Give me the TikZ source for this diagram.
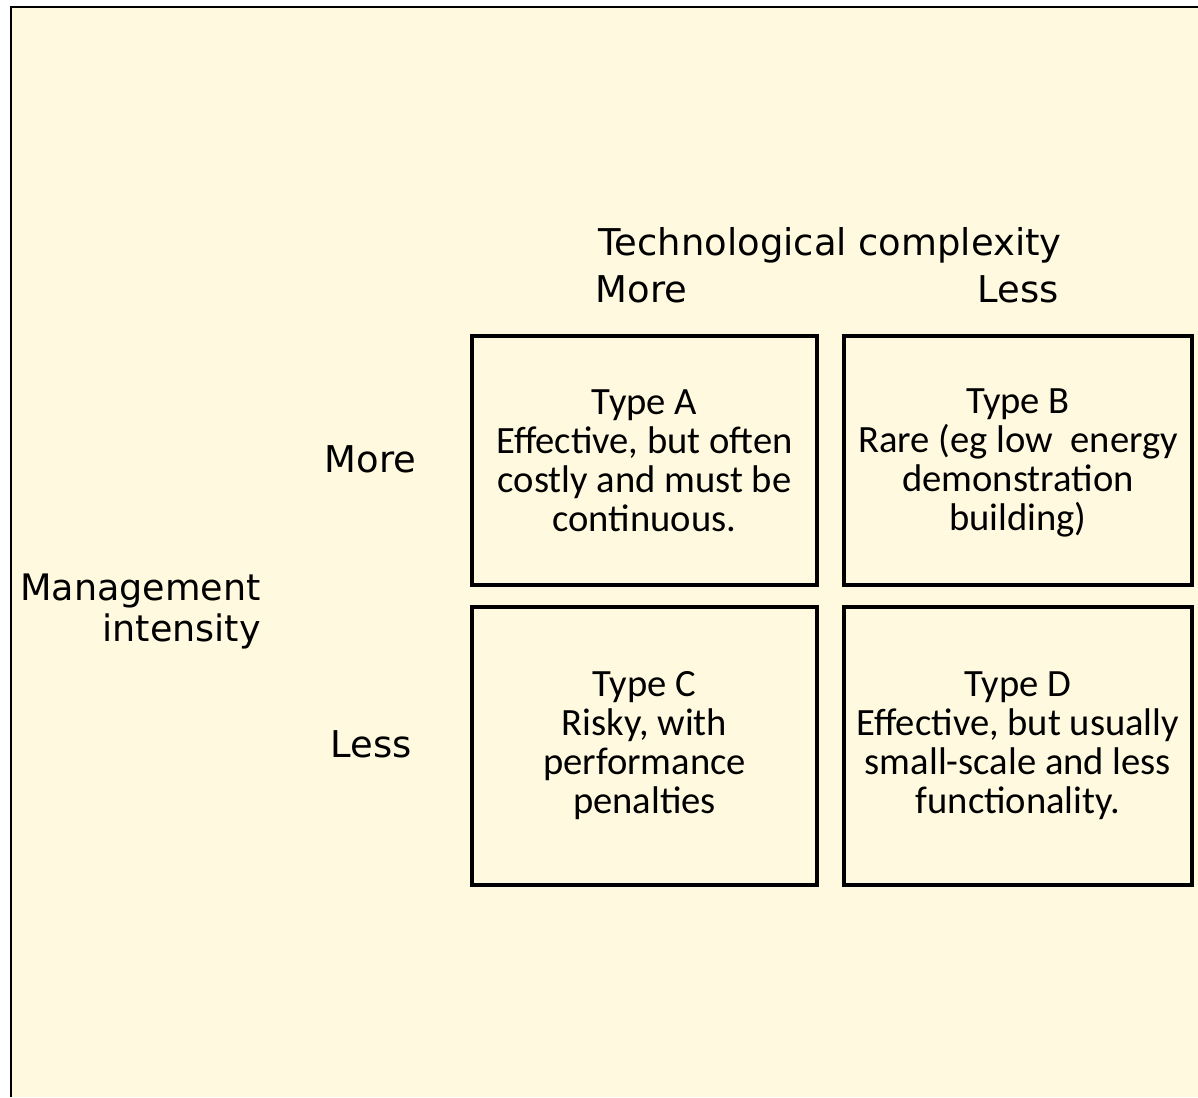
\documentclass[tikz,border=0pt]{standalone}
\usepackage{fontspec}
\setmainfont{Carlito}
\newfontfamily\labelfont{DejaVu Sans}
\definecolor{bgyellow}{HTML}{FFFADF}
\begin{document}
\begin{tikzpicture}[x=1pt,y=-1pt,
  quad/.style={draw=black, line width=4pt, rectangle, inner sep=0pt,
    align=center, font=\fontsize{38.6}{39}\selectfont},
  axislbl/.style={font=\labelfont\fontsize{36.9}{41}\selectfont, inner sep=0pt}]
\useasboundingbox (0,0) rectangle (1198,1097);
\fill[bgyellow] (11,7) rectangle (1198,1097);
\draw[line width=2.5pt] (11,1097) -- (11,7) -- (1198,7);

\node[quad, minimum width=345pt, minimum height=249pt] (A) at (644.5,460.5)
  {Type A\\Effective, but often\\costly and must be\\continuous.};
\node[quad, minimum width=348pt, minimum height=249pt] (B) at (1018,460.5)
  {\rule{0pt}{29pt}Type B\\Rare (eg low\ \ energy\\demonstration\\building)};
\node[quad, minimum width=345pt, minimum height=278pt] (C) at (644.5,746)
  {Type C\\Risky, with\\performance\\penalties};
\node[quad, minimum width=348pt, minimum height=278pt] (D) at (1018,746)
  {Type D\\Effective, but usually\\small-scale and less\\functionality.};

\node[axislbl, anchor=base] (tc) at (830,255) {Technological complexity};
\node[axislbl, anchor=base] (tmore) at (641.5,302) {More};
\node[axislbl, anchor=base] (tless) at (1018,302) {Less};
\node[axislbl, anchor=base] (lmore) at (370.5,472) {More};
\node[axislbl, anchor=base] (lless) at (371.5,757) {Less};
\node[axislbl, anchor=east, align=right, font=\labelfont\fontsize{36.5}{41}\selectfont] (mi) at (261,611) {Management\\intensity};
\end{tikzpicture}
\end{document}
